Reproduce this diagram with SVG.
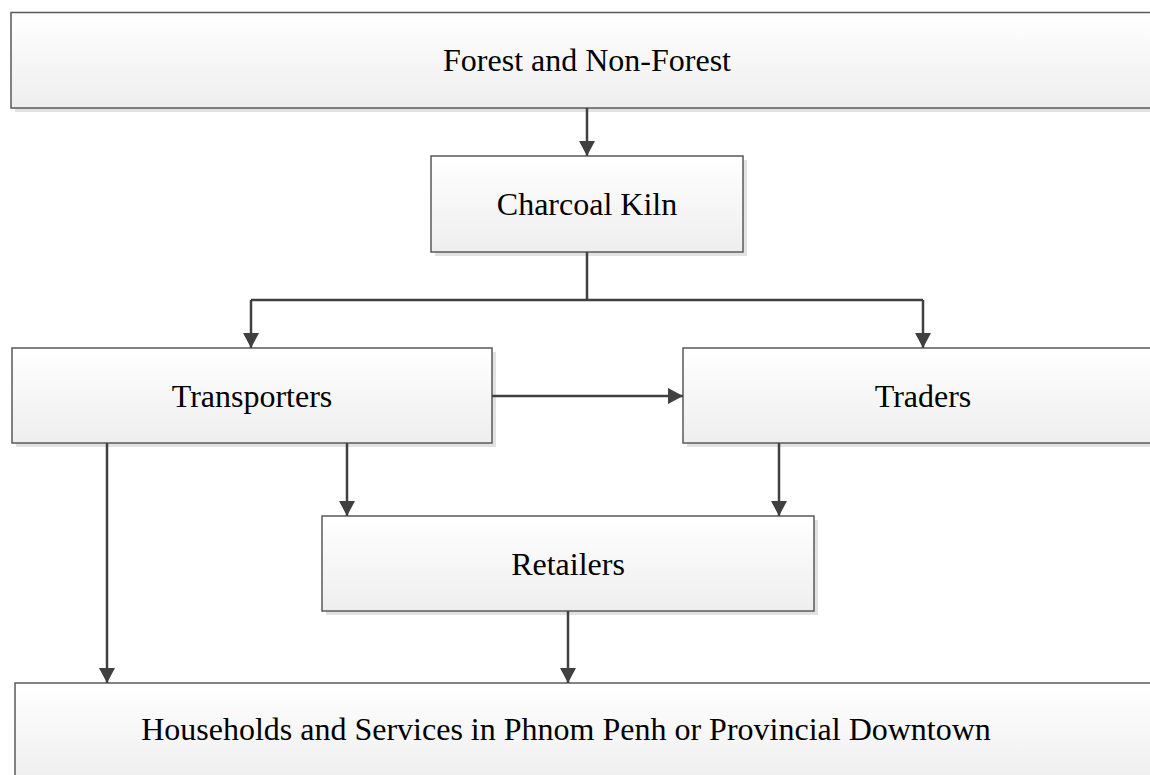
<svg xmlns="http://www.w3.org/2000/svg" width="1150" height="775" viewBox="0 0 1150 775">
  <defs>
    <linearGradient id="boxfill" x1="0" y1="0" x2="0" y2="1">
      <stop offset="0" stop-color="#ffffff"/>
      <stop offset="1" stop-color="#eeeeee"/>
    </linearGradient>
    <marker id="arrow" markerUnits="userSpaceOnUse" markerWidth="16" markerHeight="16" refX="15" refY="8" orient="auto">
      <path d="M0,0 L15,8 L0,16 z" fill="#404040"/>
    </marker>
    <style>
      .shadow { fill: #e2e2e2; }
      .box { fill: url(#boxfill); stroke: #5a5a5a; stroke-width: 1.5; }
      .label { font-family: "Liberation Serif", "Times New Roman", serif; font-size: 32px; fill: #000; text-anchor: middle; }
      .conn { fill: none; stroke: #404040; stroke-width: 2.5; }
    </style>
  </defs>
  <rect width="1150" height="775" fill="#ffffff"/>

  <g id="node-forest">
    <rect class="shadow" x="15" y="16" width="1150" height="96"/>
    <rect class="box" x="11" y="12.5" width="1150" height="95.5"/>
    <text class="label" x="587" y="71">Forest and Non-Forest</text>
  </g>

  <g id="node-kiln">
    <rect class="shadow" x="435" y="160" width="312" height="96"/>
    <rect class="box" x="431" y="156" width="312" height="96"/>
    <text class="label" x="587" y="215">Charcoal Kiln</text>
  </g>

  <g id="node-transporters">
    <rect class="shadow" x="16" y="352" width="480" height="95"/>
    <rect class="box" x="12" y="348" width="480" height="95"/>
    <text class="label" x="252" y="407">Transporters</text>
  </g>

  <g id="node-traders">
    <rect class="shadow" x="687" y="352" width="480" height="95"/>
    <rect class="box" x="683" y="348" width="480" height="95"/>
    <text class="label" x="923" y="407">Traders</text>
  </g>

  <g id="node-retailers">
    <rect class="shadow" x="326" y="520" width="492" height="95"/>
    <rect class="box" x="322" y="516" width="492" height="95"/>
    <text class="label" x="568" y="575">Retailers</text>
  </g>

  <g id="node-households">
    <rect class="shadow" x="19" y="687" width="1150" height="100"/>
    <rect class="box" x="15" y="683" width="1150" height="100"/>
    <text class="label" x="566" y="740">Households and Services in Phnom Penh or Provincial Downtown</text>
  </g>

  <g id="connectors">
    <line class="conn" x1="587" y1="108" x2="587" y2="156" marker-end="url(#arrow)"/>
    <polyline class="conn" points="587,252 587,300"/>
    <polyline class="conn" points="251,300 923,300"/>
    <line class="conn" x1="251" y1="300" x2="251" y2="348" marker-end="url(#arrow)"/>
    <line class="conn" x1="923" y1="300" x2="923" y2="348" marker-end="url(#arrow)"/>
    <line class="conn" x1="492" y1="396" x2="683" y2="396" marker-end="url(#arrow)"/>
    <line class="conn" x1="347" y1="443" x2="347" y2="516" marker-end="url(#arrow)"/>
    <line class="conn" x1="779" y1="443" x2="779" y2="516" marker-end="url(#arrow)"/>
    <line class="conn" x1="107" y1="443" x2="107" y2="683" marker-end="url(#arrow)"/>
    <line class="conn" x1="568" y1="611" x2="568" y2="683" marker-end="url(#arrow)"/>
  </g>
</svg>
